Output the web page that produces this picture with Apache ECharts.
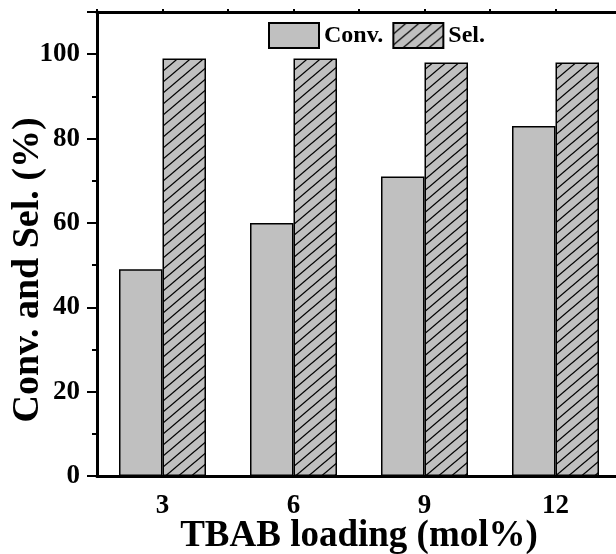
<!DOCTYPE html>
<html>
<head>
<meta charset="utf-8">
<script src="https://cdn.jsdelivr.net/npm/echarts@6/dist/echarts.min.js"></script>
<style>
html,body{margin:0;padding:0;background:#fff;}
#chart{width:616px;height:554px;}
</style>
</head>
<body>
<div id="chart"></div>
<script>
const categories = ['3', '6', '9', '12'];
const convValues = [49, 60, 71, 83];
const selValues = [99, 99, 98, 98];
const seriesNames = ['Conv.', 'Sel.'];
const xTitle = 'TBAB loading (mol%)';
const yTitle = 'Conv. and Sel. (%)';

const FONT = "'Liberation Serif', 'Times New Roman', serif";

function hatch() {
  const w = 13, h = 11;
  const c = document.createElement('canvas');
  c.width = w; c.height = h;
  const ctx = c.getContext('2d');
  ctx.fillStyle = '#c0c0c0';
  ctx.fillRect(0, 0, w, h);
  ctx.strokeStyle = '#000';
  ctx.lineWidth = 1.3;
  const shifts = [[0,0],[w,0],[-w,0],[0,h],[0,-h]];
  shifts.forEach(s => {
    ctx.beginPath();
    ctx.moveTo(0 + s[0], h + s[1]);
    ctx.lineTo(w + s[0], 0 + s[1]);
    ctx.stroke();
  });
  return c;
}

const chart = echarts.init(document.getElementById('chart'), null, {renderer: 'canvas'});
const option = {
  animation: false,
  backgroundColor: '#fff',
  grid: {left: 97, top: 12, width: 524, height: 464, containLabel: false, outerBoundsMode: 'none'},
  legend: {
    data: seriesNames,
    left: 268, top: 22, padding: 0,
    icon: 'rect',
    itemWidth: 50, itemHeight: 25, itemGap: 9,
    textStyle: {fontFamily: FONT, fontWeight: 'bold', fontSize: 24, color: '#000'}
  },
  xAxis: [
    {
      type: 'category', data: categories, position: 'bottom', boundaryGap: true,
      axisLine: {lineStyle: {color: '#000', width: 3}},
      axisTick: {alignWithLabel: true, length: 8, lineStyle: {color: '#000', width: 2}},
      axisLabel: {fontFamily: FONT, fontWeight: 'bold', fontSize: 27, color: '#000', margin: 17},
      name: xTitle, nameLocation: 'middle', nameGap: 42, nameMoveOverlap: false,
      nameTextStyle: {fontFamily: FONT, fontWeight: 'bold', fontSize: 37, color: '#000'},
      splitLine: {show: false}
    },
    {
      type: 'category', data: categories, position: 'bottom', boundaryGap: true,
      axisLine: {show: false},
      axisTick: {alignWithLabel: false, length: 4, lineStyle: {color: '#000', width: 2}},
      axisLabel: {show: false},
      splitLine: {show: false}
    },
    {
      type: 'value', position: 'top', min: 1.5, max: 13.5, interval: 1.5,
      axisLine: {show: true, lineStyle: {color: '#000', width: 3}},
      axisTick: {show: true, length: 3, lineStyle: {color: '#000', width: 2}},
      axisLabel: {show: false},
      splitLine: {show: false}
    }
  ],
  yAxis: {
    type: 'value', min: 0, max: 110, interval: 20,
    axisLine: {show: true, lineStyle: {color: '#000', width: 3}},
    axisTick: {show: true, length: 10, lineStyle: {color: '#000', width: 2}},
    minorTick: {show: true, splitNumber: 2, length: 5, lineStyle: {color: '#000', width: 2}},
    axisLabel: {fontFamily: FONT, fontWeight: 'bold', fontSize: 27, color: '#000', margin: 17, showMaxLabel: false},
    splitLine: {show: false},
    name: yTitle, nameLocation: 'middle', nameGap: 50, nameMoveOverlap: false,
    nameTextStyle: {fontFamily: FONT, fontWeight: 'bold', fontSize: 38, color: '#000', padding: [0, 52, 0, 0]}
  },
  series: [
    {
      name: seriesNames[0], type: 'bar', xAxisIndex: 0, data: convValues,
      barWidth: 43.5, barGap: '0%',
      itemStyle: {color: '#c0c0c0', borderColor: '#000', borderWidth: 1.5}
    },
    {
      name: seriesNames[1], type: 'bar', xAxisIndex: 0, data: selValues,
      barWidth: 43.5, barGap: '0%',
      itemStyle: {color: {image: hatch(), repeat: 'repeat'}, borderColor: '#000', borderWidth: 1.5}
    }
  ]
};
chart.setOption(option);
</script>
</body>
</html>
